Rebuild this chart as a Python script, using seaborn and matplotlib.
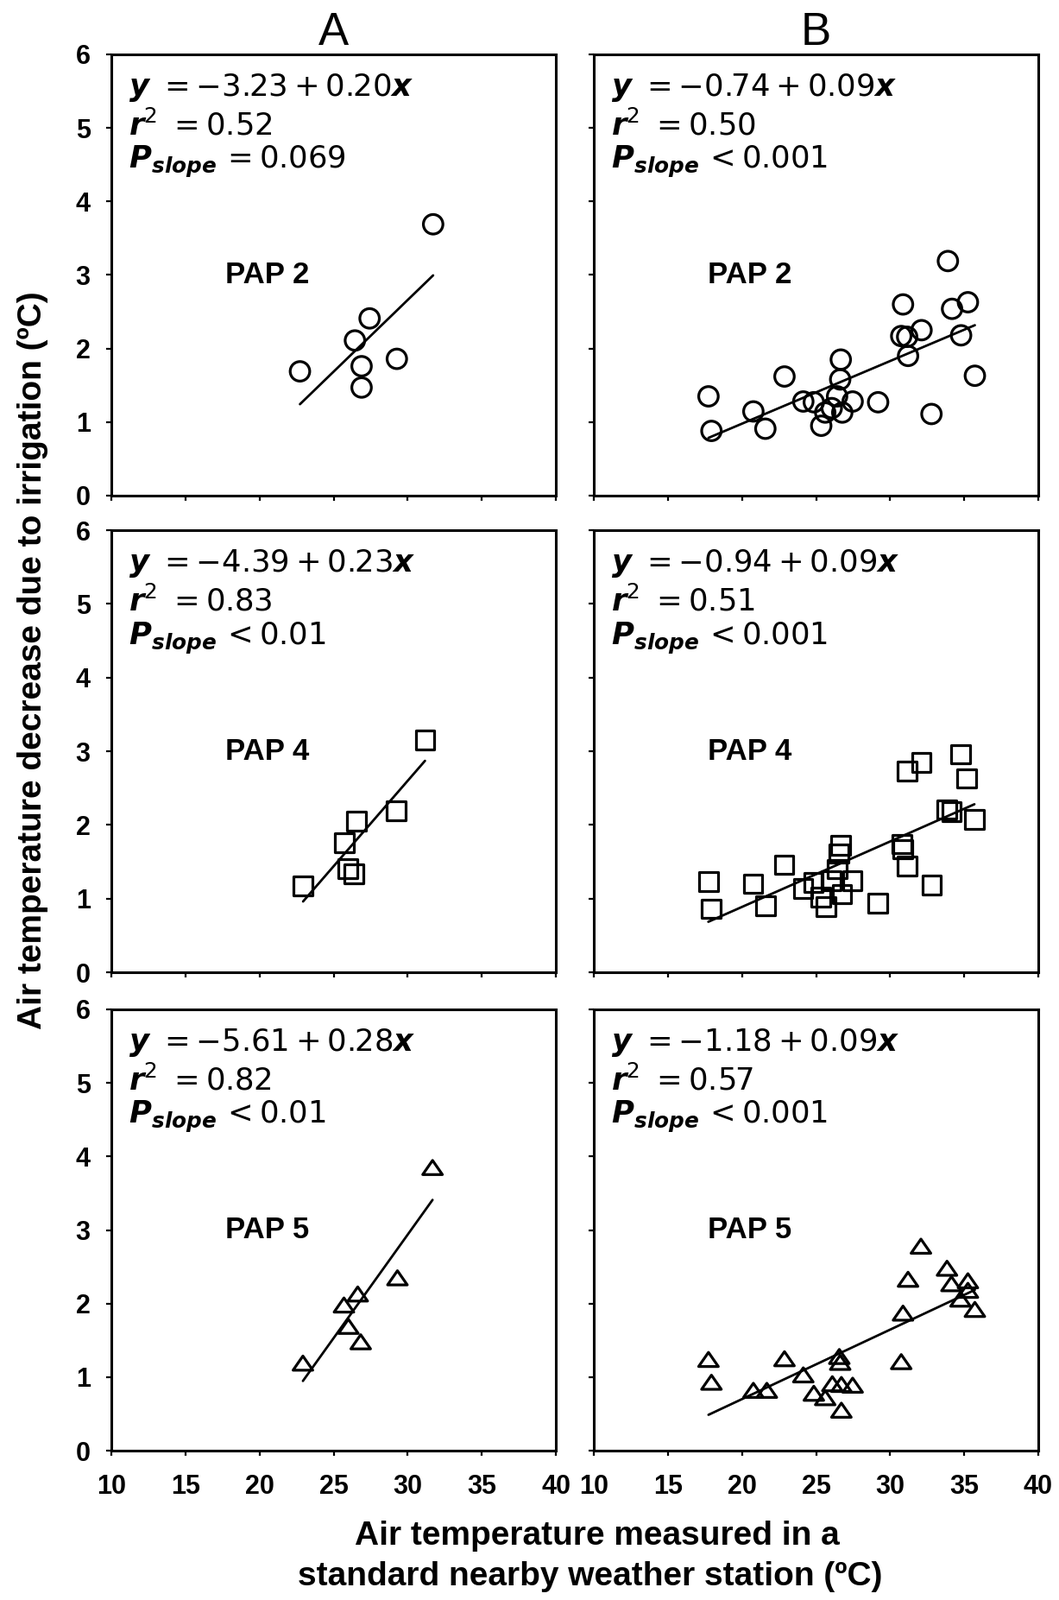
import numpy as np
import pandas as pd
import matplotlib
matplotlib.use("Agg")
import matplotlib.pyplot as plt
import matplotlib.path as mpath
import seaborn as sns

# ---------------- data ----------------
pap2_A_x = [22.73, 26.44, 27.43, 26.89, 26.89, 29.27, 31.72]
pap2_A_y = [1.69, 2.11, 2.41, 1.76, 1.47, 1.86, 3.69]

pap2_B_x = [17.74, 17.94, 20.77, 21.58, 22.87, 24.14, 24.85, 25.35, 25.62, 26.06,
            26.42, 26.63, 26.67, 26.77, 27.47, 29.19, 30.75, 30.87, 31.15, 31.21,
            32.12, 32.79, 33.90, 34.18, 34.79, 35.25, 35.72]
pap2_B_y = [1.35, 0.88, 1.145, 0.91, 1.62, 1.28, 1.27, 0.95, 1.13, 1.19,
            1.35, 1.58, 1.85, 1.13, 1.28, 1.27, 2.17, 2.60, 2.16, 1.90,
            2.25, 1.11, 3.19, 2.54, 2.18, 2.63, 1.63]

pap4_A_x = [22.94, 25.73, 26.56, 25.96, 26.36, 29.24, 31.17]
pap4_A_y = [1.175, 1.76, 2.05, 1.41, 1.34, 2.19, 3.15]

pap4_B_x = [17.73, 17.93, 20.75, 21.60, 22.85, 24.12, 24.83, 25.33, 25.68, 26.00,
            26.44, 26.55, 26.65, 26.75, 27.45, 29.17, 30.78, 30.84, 31.13, 31.13,
            32.10, 32.80, 33.81, 34.15, 34.76, 35.18, 35.69]
pap4_B_y = [1.23, 0.86, 1.20, 0.90, 1.46, 1.14, 1.22, 1.02, 0.89, 1.24,
            1.40, 1.61, 1.72, 1.06, 1.24, 0.94, 1.74, 1.67, 1.44, 2.73,
            2.85, 1.18, 2.21, 2.18, 2.96, 2.63, 2.07]

pap5_A_x = [22.93, 25.70, 26.63, 26.00, 26.83, 29.31, 31.68]
pap5_A_y = [1.19, 1.98, 2.13, 1.69, 1.48, 2.35, 3.85]

pap5_B_x = [17.74, 17.94, 20.77, 21.68, 22.87, 24.14, 24.85, 25.62, 26.10, 26.57,
            26.63, 26.71, 26.71, 27.47, 30.75, 30.87, 31.21, 32.08, 33.84, 34.14,
            34.75, 35.25, 35.25, 35.72]
pap5_B_y = [1.24, 0.93, 0.82, 0.82, 1.25, 1.03, 0.78, 0.72, 0.91, 1.28,
            1.20, 0.55, 0.90, 0.89, 1.21, 1.87, 2.33, 2.78, 2.48, 2.27,
            2.06, 2.31, 2.18, 1.92]

site_labels = ["PAP 2", "PAP 4", "PAP 5"]
column_titles = ["A", "B"]

# regression statistics as printed (row-major: PAP2 A, PAP2 B, PAP4 A, ...)
intercepts = ["-3.23", "-0.74", "-4.39", "-0.94", "-5.61", "-1.18"]
slopes = ["0.20", "0.09", "0.23", "0.09", "0.28", "0.09"]
r2_values = ["0.52", "0.50", "0.83", "0.51", "0.82", "0.57"]
p_relations = ["=", "<", "<", "<", "<", "<"]
p_values = ["0.069", "0.001", "0.01", "0.001", "0.01", "0.001"]

x_ticks = [10, 15, 20, 25, 30, 35, 40]
x_tick_labels = ["10", "15", "20", "25", "30", "35", "40"]
y_ticks = [0, 1, 2, 3, 4, 5, 6]
y_tick_labels = ["0", "1", "2", "3", "4", "5", "6"]

x_label_lines = ["Air temperature measured in a",
                 "standard nearby weather station (\u00baC)"]
y_label = "Air temperature decrease due to irrigation (\u00baC)"

# ---------------- styling ----------------
sns.set_theme(style="ticks")
plt.rcParams["font.family"] = ["Liberation Sans", "DejaVu Sans"]
plt.rcParams["mathtext.fontset"] = "custom"
plt.rcParams["mathtext.rm"] = "DejaVu Sans"
plt.rcParams["mathtext.it"] = "DejaVu Sans:italic"
plt.rcParams["mathtext.bf"] = "DejaVu Sans:bold"
plt.rcParams["mathtext.bfit"] = "DejaVu Sans:bold:italic"
plt.rcParams["axes.edgecolor"] = "black"

tri_marker = mpath.Path([(-1, -0.72), (1, -0.72), (0, 0.72), (0, 0)], closed=True)
row_markers = ["o", "s", tri_marker]
row_sizes = [265, 245, 270]

data = [
    [(pap2_A_x, pap2_A_y), (pap2_B_x, pap2_B_y)],
    [(pap4_A_x, pap4_A_y), (pap4_B_x, pap4_B_y)],
    [(pap5_A_x, pap5_A_y), (pap5_B_x, pap5_B_y)],
]

W, H = 1227, 1853
fig = plt.figure(figsize=(W / 100, H / 100), dpi=100)

col_left = [129, 688]
col_width = 515
row_top = [63, 614, 1169]
row_bottom = [574, 1126, 1680]

for r in range(3):
    for c in range(2):
        left = col_left[c] / W
        bottom = 1 - row_bottom[r] / H
        height = (row_bottom[r] - row_top[r]) / H
        ax = fig.add_axes([left, bottom, col_width / W, height])
        xs, ys = data[r][c]
        sns.regplot(
            x=xs, y=ys, ax=ax, ci=None, truncate=True, color="black",
            marker=row_markers[r],
            scatter_kws=dict(s=row_sizes[r], facecolors="none", linewidths=2.3,
                             alpha=1, zorder=3),
            line_kws=dict(lw=2.0, zorder=2),
        )
        ax.set_xlim(10, 40)
        ax.set_ylim(0, 6)
        ax.set_xlabel("")
        ax.set_ylabel("")
        ax.set_xticks(x_ticks, labels=x_tick_labels, fontweight="bold")
        ax.set_yticks(y_ticks, labels=y_tick_labels, fontweight="bold")
        ax.tick_params(axis="both", direction="out", length=4.5, width=1.6,
                       color="black", labelsize=22, labelcolor="black",
                       top=False, right=False)
        ax.tick_params(axis="y", pad=13)
        ax.tick_params(axis="x", pad=15)
        if c == 1:
            ax.tick_params(labelleft=False)
        if r < 2:
            ax.tick_params(labelbottom=False)
        for sp in ax.spines.values():
            sp.set_visible(True)
            sp.set_linewidth(2.2)
            sp.set_color("black")
        if r == 0:
            ax.set_title(column_titles[c], fontsize=38, pad=6.5,
                         fontweight="normal", color="black")

        k = r * 2 + c
        eq = (r"$\mathbfit{y}\ = " + intercepts[k] + " + " + slopes[k]
              + r"\mathbfit{x}$")
        rr = r"$\mathbfit{r}^{2}\ = " + r2_values[k] + "$"
        pp = (r"$\mathbfit{P}_{\mathbfit{slope}}\, " + p_relations[k] + " "
              + p_values[k] + "$")
        for txt, yy in zip([eq, rr, pp], [0.906, 0.818, 0.741]):
            ax.text(0.038, yy, txt, transform=ax.transAxes, ha="left",
                    va="baseline", fontsize=25.5, color="black")
        ax.text(20.5, 3.0, site_labels[r], ha="center", va="center",
                fontsize=25, fontweight="bold", color="black")

fig.text(38 / W, 1 - 765 / H, y_label, rotation=90, ha="center", va="center",
         fontsize=28, fontweight="bold", color="black")
fig.text(692 / W, 1 - 1779 / H, x_label_lines[0], ha="center", va="center",
         fontsize=28, fontweight="bold", color="black")
fig.text(684 / W, 1 - 1826 / H, x_label_lines[1], ha="center", va="center",
         fontsize=28, fontweight="bold", color="black")

fig.savefig("out.png", dpi=100, facecolor="white")
